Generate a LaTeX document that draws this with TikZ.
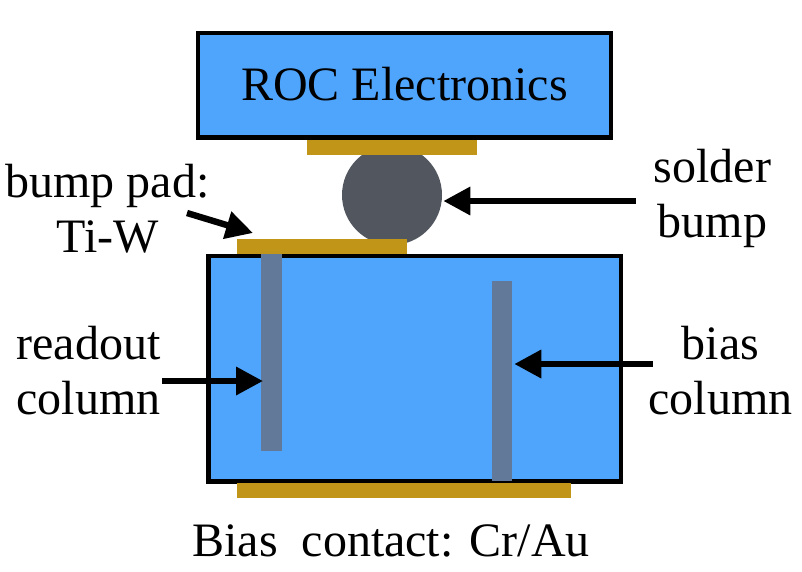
\documentclass[tikz,border=0pt]{standalone}
\usepackage{fontspec}
\setmainfont{Liberation Serif}
\usetikzlibrary{arrows.meta,calc}
\definecolor{boxblue}{HTML}{4FA4FB}
\definecolor{padgold}{HTML}{C19518}
\definecolor{ballgrey}{HTML}{52575F}
\definecolor{colgrey}{HTML}{62799A}
\tikzset{
  x=1pt,y=-1pt,
  bluebox/.style={draw=black,line width=4.3pt,fill=boxblue,inner sep=0pt,outer sep=0pt},
  pad/.style={fill=padgold,inner sep=0pt,outer sep=0pt,minimum height=15pt},
  col/.style={fill=colgrey,inner sep=0pt,outer sep=0pt,minimum width=20.5pt},
  ball/.style={circle,fill=ballgrey,inner sep=0pt,outer sep=0pt,minimum size=100pt},
  lbl/.style={inner sep=0pt,outer sep=0pt,font=\fontsize{48}{55}\selectfont},
  arr/.style={line width=6.4pt,-{Triangle[length=27pt,width=27pt]}}
}
\begin{document}
\begin{tikzpicture}
\useasboundingbox (0,0) rectangle (802,571);
\fill[white] (0,0) rectangle (802,571);
% boxes
\node[bluebox,minimum width=413pt,minimum height=104.5pt] (roc) at (404.5,85.25) {};
\node[bluebox,minimum width=412.5pt,minimum height=225.5pt] (sensor) at (414.75,368.75) {};
% ball and pads
\node[ball] (bump) at (392,195) {};
\node[pad,minimum width=170pt] (toppad) at (392,147.5) {};
\node[pad,minimum width=170pt] (botpad) at (322,246.5) {};
\node[pad,minimum width=334pt] (biaspad) at (404,490.5) {};
% columns
\node[col,minimum height=197pt] (readcol) at (271.25,352.5) {};
\node[col,minimum height=200pt] (biascol) at (502,381) {};
% labels
\node[lbl] (roctxt) at (404.5,84) {ROC Electronics};
\node[lbl,align=center] (padtxt) at (107.5,209) {bump pad:\\Ti-W};
\node[lbl,align=center] (soldertxt) at (712.5,198.5) {solder\\bump};
\node[lbl,align=center] (readtxt) at (88.5,370.5) {readout\\column};
\node[lbl,align=center] (biastxt) at (720.5,370.5) {bias\\column};
\node[lbl] (biasctxt) at (391,541) {Bias\ \ contact: Cr/Au};
% arrows
\draw[arr,shorten <=1.5pt,shorten >=-2pt] (readtxt.east |- 0,381) -- (readcol.west |- 0,381);
\draw[arr,shorten <=-4.2pt,shorten >=2pt] (biastxt.west |- 0,364) -- (biascol.east |- 0,364);
\draw[arr,shorten <=18pt,shorten >=1.3pt] (soldertxt.west |- 0,201) -- (bump.east |- 0,201);
\coordinate (padtail) at ($(padtxt.east)+(-22.5,4)$);
\coordinate (padtip) at ($(botpad.north west)+(16,-6)$);
\draw[arr] (padtail) -- (padtip);
\end{tikzpicture}
\end{document}
